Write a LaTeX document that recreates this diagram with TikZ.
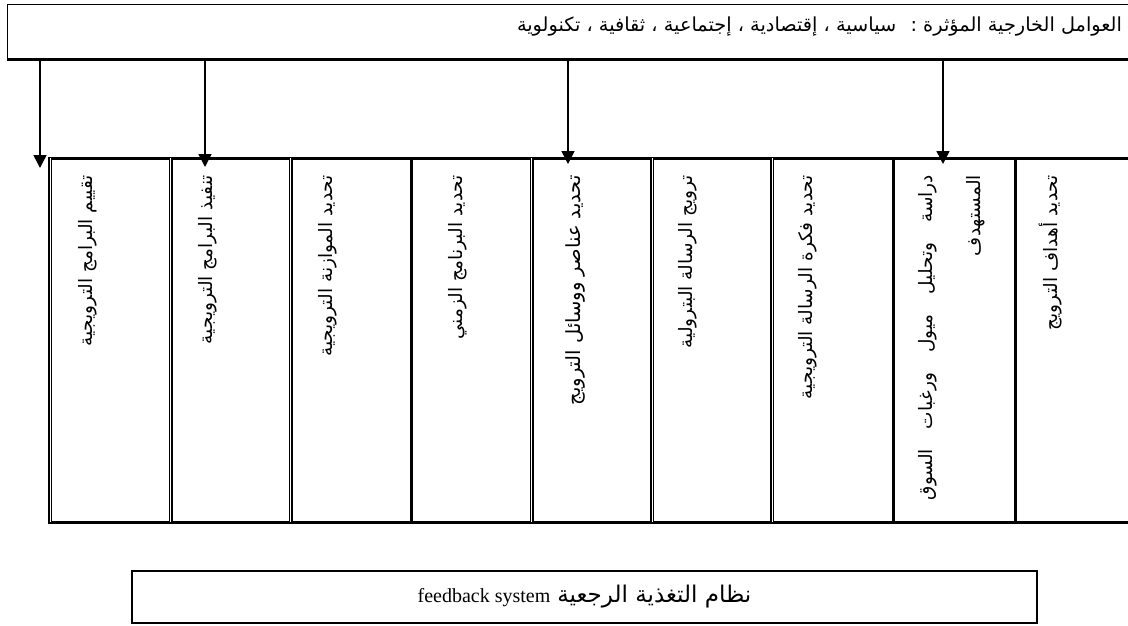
\documentclass[tikz,border=0pt]{standalone}
\usepackage{fontspec}
\setmainfont{Liberation Serif}
\newfontfamily\arabicfont[Script=Arabic]{DejaVu Sans}
\TeXXeTstate=1
\usetikzlibrary{arrows.meta}
\newcommand\ARtxt[1]{\beginR #1\endR}
\begin{document}
\begin{tikzpicture}[x=1pt,y=-1pt,
  thinframe/.style={draw,line width=1.3pt,inner sep=0pt},
  thickrule/.style={line width=3pt},
  dblrule/.style={draw=black,double=white,double distance=1pt,line width=1.5pt},
  arr/.style={line width=1.5pt,-{Triangle[width=13pt,length=13pt]}},
  colbox/.style={minimum width=120.5pt,minimum height=364pt,anchor=north west,inner sep=0pt},
  coltext/.style={rotate=90,anchor=east,inner sep=0pt,font=\arabicfont\fontsize{18.5}{22}\selectfont},
  ]
\useasboundingbox (0,0) rectangle (1128,625);
\clip (0,0) rectangle (1128,625);
% external factors box
\node[thinframe,anchor=north west,minimum width=1140pt,minimum height=54pt] (ext) at (7,4) {};
\draw[thickrule] (ext.south west) -- (ext.south east);
\node[anchor=east,inner sep=0pt,font=\arabicfont\fontsize{19.3}{22}\selectfont] (exttxt) at (1122,27)
  {\ARtxt{العوامل الخارجية المؤثرة :~ سياسية ، إقتصادية ، إجتماعية ، ثقافية ، تكنولوية}};
% columns
\node[colbox] (c1) at (50,158) {};
\node[colbox] (c2) at (170.5,158) {};
\node[colbox] (c3) at (290.5,158) {};
\node[colbox] (c4) at (411,158) {};
\node[colbox] (c5) at (531.5,158) {};
\node[colbox] (c6) at (652,158) {};
\node[colbox] (c7) at (772,158) {};
\node[colbox] (c8) at (893,158) {};
\node[colbox] (c9) at (1015,158) {};
\draw[thickrule] (c1.north west) ++(-2,0) -- (c9.north east);
\draw[thickrule] (c1.south west) ++(-2,0) -- (c9.south east);
\draw[dblrule] (c1.north west) -- (c1.south west);
\draw[dblrule] (c2.north west) -- (c2.south west);
\draw[dblrule] (c3.north west) -- (c3.south west);
\draw[thickrule] (c4.north west) -- (c4.south west);
\draw[dblrule] (c5.north west) -- (c5.south west);
\draw[dblrule] (c6.north west) -- (c6.south west);
\draw[dblrule] (c7.north west) -- (c7.south west);
\draw[thickrule] (c8.north west) -- (c8.south west);
\draw[thickrule] (c9.north west) -- (c9.south west);
% column texts
\node[coltext] (t1) at (88,175) {\ARtxt{تقييم البرامج الترويجية}};
\node[coltext] (t2) at (208,175) {\ARtxt{تنفيذ البرامج الترويجية}};
\node[coltext] (t3) at (328,175) {\ARtxt{تحديد الموازنة الترويجية}};
\node[coltext] (t4) at (458,175) {\ARtxt{تحديد البرنامج الزمني}};
\node[coltext,font=\arabicfont\fontsize{19.5}{22}\selectfont] (t5) at (575,175) {\ARtxt{تحديد عناصر ووسائل الترويج}};
\node[coltext] (t6) at (688,175) {\ARtxt{ترويج الرسالة البترولية}};
\node[coltext] (t7) at (808,175) {\ARtxt{تحديد فكرة الرسالة الترويجية}};
\node[coltext] (t8a) at (928,175) {\hbox to 325pt{\beginR دراسة\hfill وتحليل\hfill ميول\hfill ورغبات\hfill السوق\endR}};
\node[coltext] (t8b) at (976,175) {\ARtxt{المستهدف}};
\node[coltext] (t9) at (1051,175) {\ARtxt{تحديد أهداف الترويج}};
% arrows
\coordinate (p1) at (40,168);
\coordinate (p2) at (205,167);
\coordinate (p3) at (568,164);
\coordinate (p4) at (943,164);
\draw[arr] (p1 |- ext.south) -- (p1);
\draw[arr] (p2 |- ext.south) -- (p2);
\draw[arr] (p3 |- ext.south) -- (p3);
\draw[arr] (p4 |- ext.south) -- (p4);
% feedback box
\node[thinframe,minimum width=905pt,minimum height=52pt] (fb) at (584.5,597)
  {\beginR{\arabicfont\fontsize{23}{26}\selectfont نظام التغذية الرجعية}\hspace{7pt}\beginL{\fontsize{20}{24}\selectfont feedback system}\endL\endR};
\end{tikzpicture}
\end{document}
